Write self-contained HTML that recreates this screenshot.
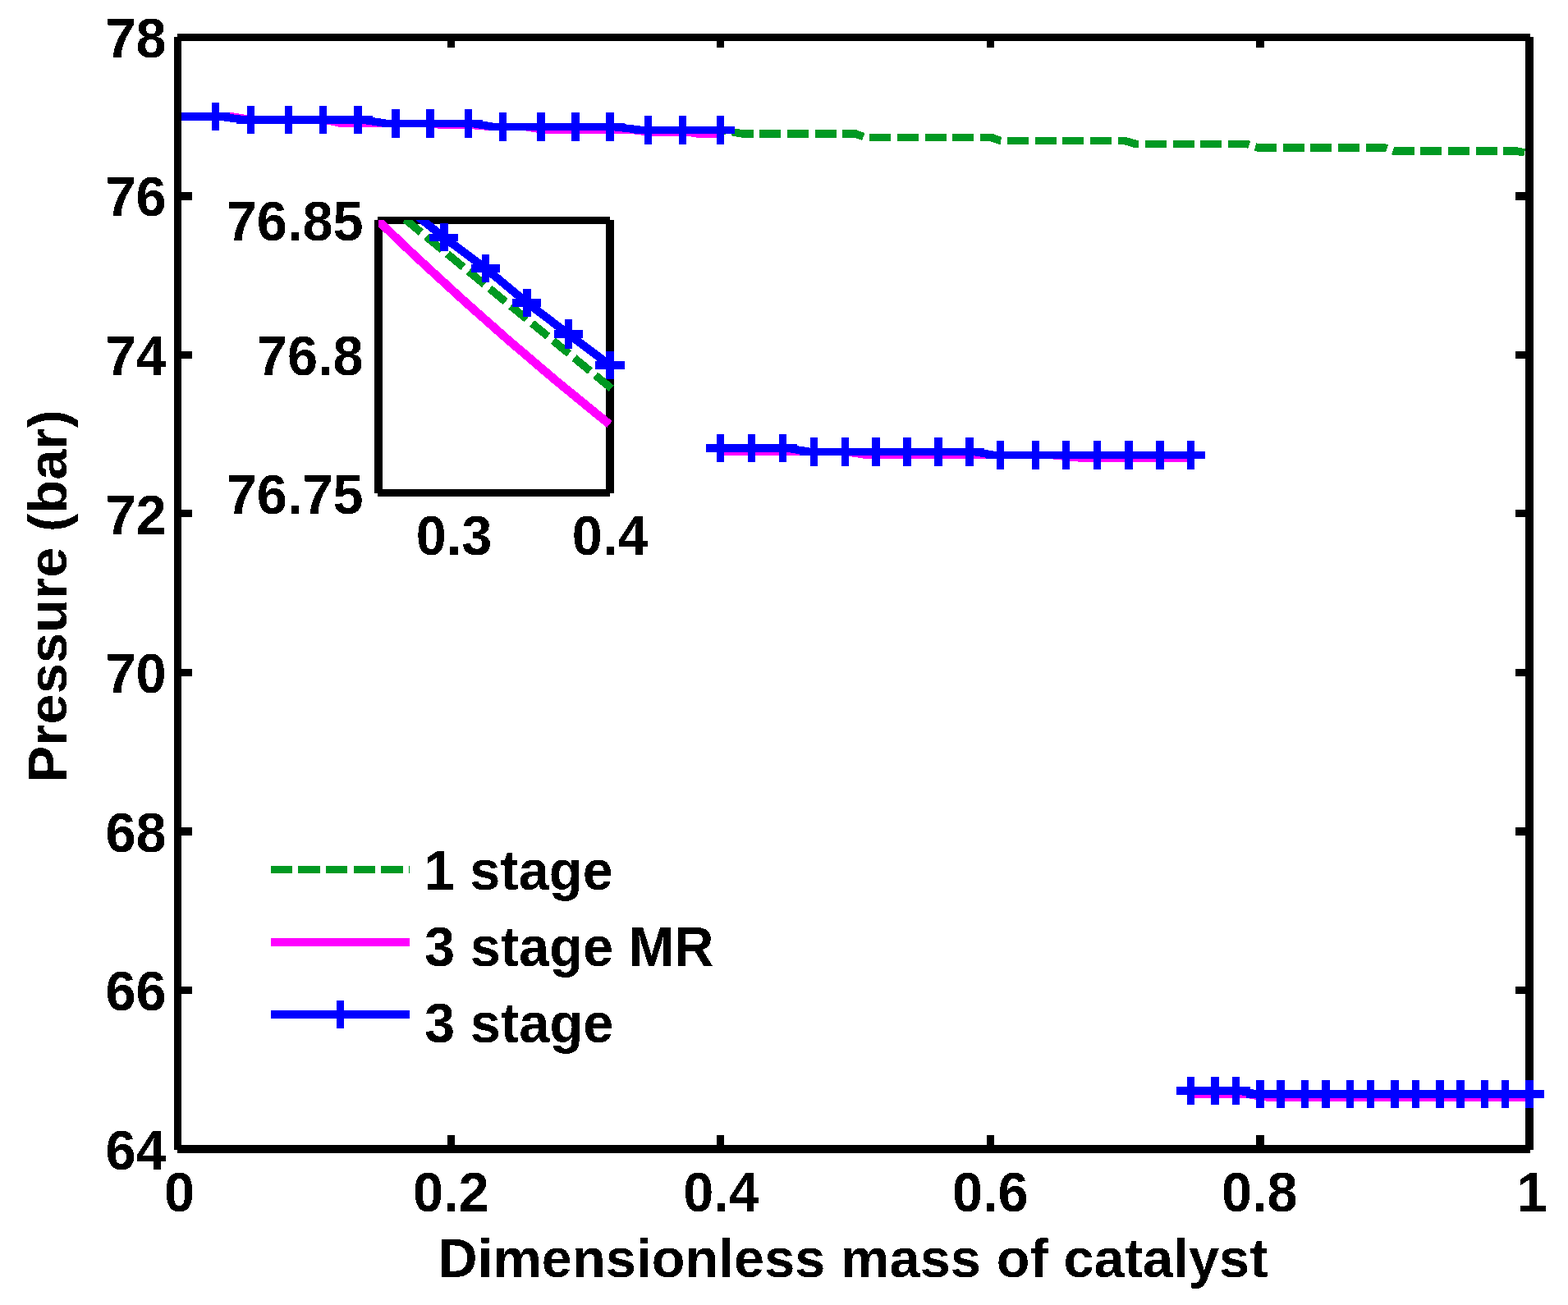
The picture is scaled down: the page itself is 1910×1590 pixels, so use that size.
<!DOCTYPE html>
<html lang="en"><head><meta charset="utf-8"><title>Pressure vs dimensionless mass of catalyst</title>
<style>
html,body{margin:0;padding:0;background:#fff;}
body{width:1910px;height:1590px;overflow:hidden;}
svg{display:block;}
text{font-family:"Liberation Sans",Arial,Helvetica,sans-serif;font-weight:bold;font-size:66.67px;fill:#000;filter:url(#crisp);}
</style></head><body>
<svg width="1910" height="1590" viewBox="0 0 1910 1590">
<rect x="0" y="0" width="1910" height="1590" fill="#fff"/>
<defs><filter id="crisp" x="-5%" y="-20%" width="110%" height="140%" color-interpolation-filters="sRGB"><feComponentTransfer><feFuncA type="discrete" tableValues="0 1"/></feComponentTransfer></filter></defs>
<g id="curves" shape-rendering="crispEdges">
<polyline points="221,142 267,142 298,146 441,146 471,150.4 575,150.4 602,154.6 748,154.6 783,158.6 880,158.6 905,163 1042,163 1054,167.3 1207,167.3 1219,171.5 1370,171.5 1384,175.6 1519,175.6 1532,179.8 1686,179.8 1698,184 1847,184 1860,186.5" fill="none" stroke="#009922" stroke-width="9.5" stroke-linejoin="miter" stroke-dasharray="26 7.68" stroke-dashoffset="1.36526"/>
<polyline points="221,142 283,142 308,146 395,146 416,150.4 520,150.4 540,152.5 575,152.5 600,154.6 640,154.6 664,158.6 772,158.6 794,161.3 840,161.3 850,163 877.5,163" fill="none" stroke="#ff00ff" stroke-width="9.5" stroke-linejoin="miter"/>
<polyline points="877.5,550.4 1030,550.4 1057,554.6 1282,554.6 1322,558.7 1450.5,558.7" fill="none" stroke="#ff00ff" stroke-width="9.5" stroke-linejoin="miter"/>
<polyline points="1450.5,1333 1517,1333 1545,1337.2 1863,1337.2" fill="none" stroke="#ff00ff" stroke-width="9.5" stroke-linejoin="miter"/>
<polyline points="221,142 267,142 298,146 441,146 471,150.4 575,150.4 602,154.6 748,154.6 783,158.6 877.5,158.6" fill="none" stroke="#0000ff" stroke-width="9.5" stroke-linejoin="miter"/>
<polyline points="877.5,546 958,546 987,550.4 1186,550.4 1212,554.6 1450.5,554.6" fill="none" stroke="#0000ff" stroke-width="9.5" stroke-linejoin="miter"/>
<polyline points="1450.5,1329 1510,1329 1530,1333 1863,1333" fill="none" stroke="#0000ff" stroke-width="9.5" stroke-linejoin="miter"/>
<rect x="258" y="125" width="9" height="34" fill="#0000ff"/>
<rect x="245" y="137.25" width="35" height="9.5" fill="#0000ff"/>
<rect x="301" y="129" width="9" height="34" fill="#0000ff"/>
<rect x="288" y="141.25" width="35" height="9.5" fill="#0000ff"/>
<rect x="347" y="129" width="9" height="34" fill="#0000ff"/>
<rect x="334" y="141.25" width="35" height="9.5" fill="#0000ff"/>
<rect x="389" y="129" width="9" height="34" fill="#0000ff"/>
<rect x="376" y="141.25" width="35" height="9.5" fill="#0000ff"/>
<rect x="431" y="129" width="10" height="34" fill="#0000ff"/>
<rect x="418.5" y="141.25" width="35" height="9.5" fill="#0000ff"/>
<rect x="477" y="133" width="10" height="35" fill="#0000ff"/>
<rect x="464.5" y="145.65" width="35" height="9.5" fill="#0000ff"/>
<rect x="519" y="133" width="10" height="35" fill="#0000ff"/>
<rect x="506.5" y="145.65" width="35" height="9.5" fill="#0000ff"/>
<rect x="566" y="133" width="9" height="35" fill="#0000ff"/>
<rect x="553" y="145.65" width="35" height="9.5" fill="#0000ff"/>
<rect x="608" y="137" width="9" height="35" fill="#0000ff"/>
<rect x="595" y="149.85" width="35" height="9.5" fill="#0000ff"/>
<rect x="654" y="137" width="10" height="35" fill="#0000ff"/>
<rect x="641.5" y="149.85" width="35" height="9.5" fill="#0000ff"/>
<rect x="696" y="137" width="10" height="35" fill="#0000ff"/>
<rect x="683.5" y="149.85" width="35" height="9.5" fill="#0000ff"/>
<rect x="738" y="137" width="10" height="35" fill="#0000ff"/>
<rect x="725.5" y="149.85" width="35" height="9.5" fill="#0000ff"/>
<rect x="785" y="141" width="9" height="35" fill="#0000ff"/>
<rect x="772" y="153.85" width="35" height="9.5" fill="#0000ff"/>
<rect x="827" y="141" width="9" height="35" fill="#0000ff"/>
<rect x="814" y="153.85" width="35" height="9.5" fill="#0000ff"/>
<rect x="873" y="141" width="9" height="35" fill="#0000ff"/>
<rect x="860" y="153.85" width="35" height="9.5" fill="#0000ff"/>
<rect x="873" y="529" width="9" height="34" fill="#0000ff"/>
<rect x="860" y="541.25" width="35" height="9.5" fill="#0000ff"/>
<rect x="911" y="529" width="9" height="34" fill="#0000ff"/>
<rect x="898" y="541.25" width="35" height="9.5" fill="#0000ff"/>
<rect x="949" y="529" width="9" height="34" fill="#0000ff"/>
<rect x="936" y="541.25" width="35" height="9.5" fill="#0000ff"/>
<rect x="987" y="533" width="9" height="35" fill="#0000ff"/>
<rect x="974" y="545.65" width="35" height="9.5" fill="#0000ff"/>
<rect x="1025" y="533" width="9" height="35" fill="#0000ff"/>
<rect x="1012" y="545.65" width="35" height="9.5" fill="#0000ff"/>
<rect x="1062" y="533" width="10" height="35" fill="#0000ff"/>
<rect x="1049.5" y="545.65" width="35" height="9.5" fill="#0000ff"/>
<rect x="1100" y="533" width="10" height="35" fill="#0000ff"/>
<rect x="1087.5" y="545.65" width="35" height="9.5" fill="#0000ff"/>
<rect x="1138" y="533" width="10" height="35" fill="#0000ff"/>
<rect x="1125.5" y="545.65" width="35" height="9.5" fill="#0000ff"/>
<rect x="1176" y="533" width="10" height="35" fill="#0000ff"/>
<rect x="1163.5" y="545.65" width="35" height="9.5" fill="#0000ff"/>
<rect x="1214" y="537" width="9" height="35" fill="#0000ff"/>
<rect x="1201" y="549.85" width="35" height="9.5" fill="#0000ff"/>
<rect x="1257" y="537" width="9" height="35" fill="#0000ff"/>
<rect x="1244" y="549.85" width="35" height="9.5" fill="#0000ff"/>
<rect x="1294" y="537" width="9" height="35" fill="#0000ff"/>
<rect x="1281" y="549.85" width="35" height="9.5" fill="#0000ff"/>
<rect x="1332" y="537" width="9" height="35" fill="#0000ff"/>
<rect x="1319" y="549.85" width="35" height="9.5" fill="#0000ff"/>
<rect x="1370" y="537" width="10" height="35" fill="#0000ff"/>
<rect x="1357.5" y="549.85" width="35" height="9.5" fill="#0000ff"/>
<rect x="1408" y="537" width="10" height="35" fill="#0000ff"/>
<rect x="1395.5" y="549.85" width="35" height="9.5" fill="#0000ff"/>
<rect x="1446" y="537" width="9" height="35" fill="#0000ff"/>
<rect x="1433" y="549.85" width="35" height="9.5" fill="#0000ff"/>
<rect x="1446" y="1312" width="9" height="34" fill="#0000ff"/>
<rect x="1433" y="1324.25" width="35" height="9.5" fill="#0000ff"/>
<rect x="1475" y="1312" width="10" height="34" fill="#0000ff"/>
<rect x="1462.5" y="1324.25" width="35" height="9.5" fill="#0000ff"/>
<rect x="1501" y="1312" width="9" height="34" fill="#0000ff"/>
<rect x="1488" y="1324.25" width="35" height="9.5" fill="#0000ff"/>
<rect x="1530" y="1316" width="10" height="34" fill="#0000ff"/>
<rect x="1517.5" y="1328.25" width="35" height="9.5" fill="#0000ff"/>
<rect x="1555" y="1316" width="10" height="34" fill="#0000ff"/>
<rect x="1542.5" y="1328.25" width="35" height="9.5" fill="#0000ff"/>
<rect x="1585" y="1316" width="9" height="34" fill="#0000ff"/>
<rect x="1572" y="1328.25" width="35" height="9.5" fill="#0000ff"/>
<rect x="1610" y="1316" width="10" height="34" fill="#0000ff"/>
<rect x="1597.5" y="1328.25" width="35" height="9.5" fill="#0000ff"/>
<rect x="1640" y="1316" width="9" height="34" fill="#0000ff"/>
<rect x="1627" y="1328.25" width="35" height="9.5" fill="#0000ff"/>
<rect x="1665" y="1316" width="9" height="34" fill="#0000ff"/>
<rect x="1652" y="1328.25" width="35" height="9.5" fill="#0000ff"/>
<rect x="1694" y="1316" width="10" height="34" fill="#0000ff"/>
<rect x="1681.5" y="1328.25" width="35" height="9.5" fill="#0000ff"/>
<rect x="1720" y="1316" width="9" height="34" fill="#0000ff"/>
<rect x="1707" y="1328.25" width="35" height="9.5" fill="#0000ff"/>
<rect x="1749" y="1316" width="10" height="34" fill="#0000ff"/>
<rect x="1736.5" y="1328.25" width="35" height="9.5" fill="#0000ff"/>
<rect x="1774" y="1316" width="10" height="34" fill="#0000ff"/>
<rect x="1761.5" y="1328.25" width="35" height="9.5" fill="#0000ff"/>
<rect x="1804" y="1316" width="9" height="34" fill="#0000ff"/>
<rect x="1791" y="1328.25" width="35" height="9.5" fill="#0000ff"/>
<rect x="1829" y="1316" width="9" height="34" fill="#0000ff"/>
<rect x="1816" y="1328.25" width="35" height="9.5" fill="#0000ff"/>
<rect x="1858" y="1316" width="10" height="34" fill="#0000ff"/>
<rect x="1845.5" y="1328.25" width="35" height="9.5" fill="#0000ff"/>
</g>
<g id="axes" shape-rendering="crispEdges">
<rect x="212" y="45" width="9" height="1356" fill="#000"/>
<rect x="216" y="41" width="1648" height="9" fill="#000"/>
<rect x="1858" y="45" width="10" height="1356" fill="#000"/>
<rect x="216" y="1395" width="1648" height="10" fill="#000"/>
<rect x="545" y="1383" width="9" height="13" fill="#000"/>
<rect x="545" y="49" width="9" height="9" fill="#000"/>
<rect x="873" y="1383" width="9" height="13" fill="#000"/>
<rect x="873" y="49" width="9" height="9" fill="#000"/>
<rect x="1202" y="1383" width="9" height="13" fill="#000"/>
<rect x="1202" y="49" width="9" height="9" fill="#000"/>
<rect x="1530" y="1383" width="10" height="13" fill="#000"/>
<rect x="1530" y="49" width="10" height="9" fill="#000"/>
<rect x="220" y="234" width="14" height="10" fill="#000"/>
<rect x="1846" y="234" width="13" height="10" fill="#000"/>
<rect x="220" y="428" width="14" height="9" fill="#000"/>
<rect x="1846" y="428" width="13" height="9" fill="#000"/>
<rect x="220" y="621" width="14" height="9" fill="#000"/>
<rect x="1846" y="621" width="13" height="9" fill="#000"/>
<rect x="220" y="815" width="14" height="9" fill="#000"/>
<rect x="1846" y="815" width="13" height="9" fill="#000"/>
<rect x="220" y="1008" width="14" height="10" fill="#000"/>
<rect x="1846" y="1008" width="13" height="10" fill="#000"/>
<rect x="220" y="1202" width="14" height="9" fill="#000"/>
<rect x="1846" y="1202" width="13" height="9" fill="#000"/>
</g>
<rect x="1858" y="1316" width="10" height="34" fill="#0000ff"/>
<rect x="1845.5" y="1328.25" width="35" height="9.5" fill="#0000ff"/>
<g id="ticklabels">
<text transform="translate(202.6,70.1) scale(1,1.03)" text-anchor="end">78</text>
<text transform="translate(202.6,263.1) scale(1,1.03)" text-anchor="end">76</text>
<text transform="translate(202.6,457.1) scale(1,1.03)" text-anchor="end">74</text>
<text transform="translate(202.6,651.1) scale(1,1.03)" text-anchor="end">72</text>
<text transform="translate(202.6,844.1) scale(1,1.03)" text-anchor="end">70</text>
<text transform="translate(202.6,1038.1) scale(1,1.03)" text-anchor="end">68</text>
<text transform="translate(202.6,1231.1) scale(1,1.03)" text-anchor="end">66</text>
<text transform="translate(202.6,1425.1) scale(1,1.03)" text-anchor="end">64</text>
<text transform="translate(218.5,1476.1) scale(1,1.03)" text-anchor="middle">0</text>
<text transform="translate(549.3,1476.1) scale(1,1.03)" text-anchor="middle">0.2</text>
<text transform="translate(878.5,1476.1) scale(1,1.03)" text-anchor="middle">0.4</text>
<text transform="translate(1206.3,1476.1) scale(1,1.03)" text-anchor="middle">0.6</text>
<text transform="translate(1534.3,1476.1) scale(1,1.03)" text-anchor="middle">0.8</text>
<text transform="translate(1866.2,1476.1) scale(1,1.03)" text-anchor="middle">1</text>
</g>
<text x="533.6" y="1556.4" text-anchor="start" letter-spacing="0.11">Dimensionless mass of catalyst</text>
<text transform="translate(81,953.3) rotate(-90)" text-anchor="start" letter-spacing="0.16">Pressure (bar)</text>
<g id="inset">
<clipPath id="ic"><rect x="461" y="268" width="287" height="333"/></clipPath>
<g shape-rendering="crispEdges">
<rect x="456" y="268" width="10" height="333" fill="#000"/>
<rect x="460" y="264" width="283" height="9" fill="#000"/>
<rect x="738" y="268" width="10" height="333" fill="#000"/>
<rect x="460" y="596" width="283" height="9" fill="#000"/>
</g>
<g clip-path="url(#ic)" shape-rendering="crispEdges">
<path d="M460.7,268.8 Q594.3,398.6 742.5,517" fill="none" stroke="#ff00ff" stroke-width="10.4"/>
<polyline points="471.6,249.3 496,269.3 743,471.8 765,489.8" fill="none" stroke="#009922" stroke-width="9.5" stroke-linejoin="miter" stroke-dasharray="25 8.3" stroke-dashoffset="5"/>
<polyline points="488.8,247.7 514.8,268.5 540.8,289.3 591.5,327 642,369 692.4,407 743,445" fill="none" stroke="#0000ff" stroke-width="10" stroke-linejoin="miter"/>
</g>
<g shape-rendering="crispEdges">
<rect x="536" y="272" width="10" height="34" fill="#0000ff"/>
<rect x="523" y="285" width="35" height="9" fill="#0000ff"/>
<rect x="587" y="310" width="9" height="34" fill="#0000ff"/>
<rect x="574" y="322" width="35" height="10" fill="#0000ff"/>
<rect x="637" y="352" width="10" height="34" fill="#0000ff"/>
<rect x="624" y="364" width="35" height="10" fill="#0000ff"/>
<rect x="688" y="389" width="9" height="36" fill="#0000ff"/>
<rect x="675" y="402" width="35" height="10" fill="#0000ff"/>
<rect x="738" y="428" width="10" height="34" fill="#0000ff"/>
<rect x="725" y="440" width="36" height="10" fill="#0000ff"/>
</g>
<text transform="translate(442.6,293.1) scale(1,1.03)" text-anchor="end">76.85</text>
<text transform="translate(442.6,457.1) scale(1,1.03)" text-anchor="end">76.8</text>
<text transform="translate(442.6,626.1) scale(1,1.03)" text-anchor="end">76.75</text>
<text transform="translate(553,676.1) scale(1,1.03)" text-anchor="middle">0.3</text>
<text transform="translate(743.2,676.1) scale(1,1.03)" text-anchor="middle">0.4</text>
</g>
<g id="legend">
<g shape-rendering="crispEdges">
<rect x="330" y="1055" width="26" height="9" fill="#009922"/>
<rect x="363" y="1055" width="27" height="9" fill="#009922"/>
<rect x="397" y="1055" width="26" height="9" fill="#009922"/>
<rect x="431" y="1055" width="26" height="9" fill="#009922"/>
<rect x="464" y="1055" width="27" height="9" fill="#009922"/>
<rect x="498" y="1055" width="1" height="9" fill="#009922"/>
<rect x="330" y="1143" width="169" height="10" fill="#ff00ff"/>
<rect x="330" y="1231" width="169" height="10" fill="#0000ff"/>
<rect x="410" y="1219" width="9" height="34" fill="#0000ff"/>
</g>
<text transform="translate(516.4,1084) scale(1,1.02)" text-anchor="start" letter-spacing="0.1">1 stage</text>
<text transform="translate(517,1177.1) scale(1,1.02)" text-anchor="start" letter-spacing="0.05">3 stage MR</text>
<text transform="translate(517,1270.3) scale(1,1.02)" text-anchor="start" letter-spacing="0.1">3 stage</text>
</g>
</svg>
</body></html>
